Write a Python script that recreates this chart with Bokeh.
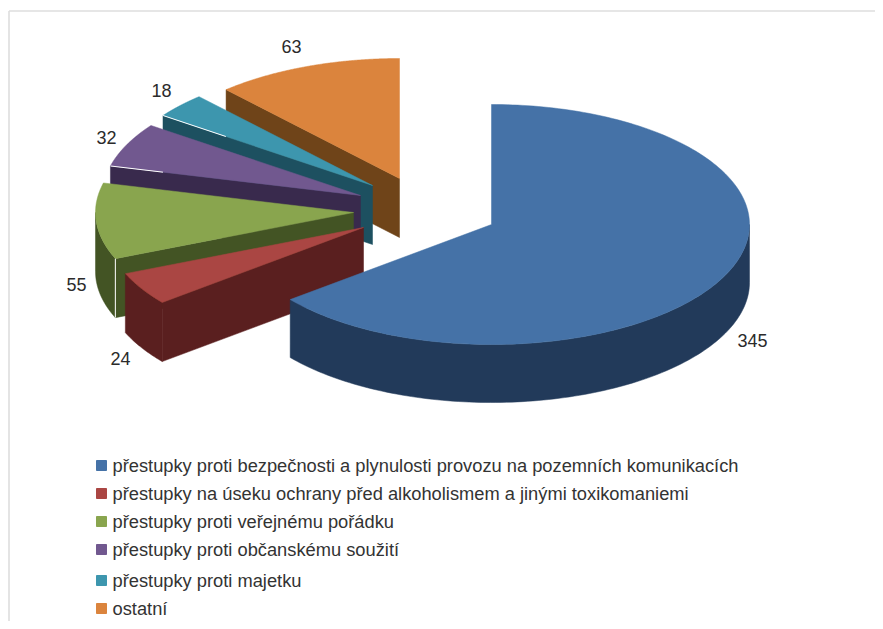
import numpy as np
from bokeh.core.properties import value
from bokeh.embed import file_html
from bokeh.models import Range1d
from bokeh.plotting import figure
from bokeh.resources import INLINE

# data
categories = [
    "přestupky proti bezpečnosti a plynulosti provozu na pozemních komunikacích",
    "přestupky na úseku ochrany před alkoholismem a jinými toxikomaniemi",
    "přestupky proti veřejnému pořádku",
    "přestupky proti občanskému soužití",
    "přestupky proti majetku",
    "ostatní",
]
values = [345, 24, 55, 32, 18, 63]

# styles
top_colors = ["#4572a7", "#aa4643", "#89a54e", "#71588f", "#3d96ae", "#db843d"]
wall_colors = ["#223a5a", "#5a1f1f", "#435424", "#392a4d", "#1d5060", "#6f4419"]

# layout (reference pixels)
apex_x = [491, 363, 353, 360, 372, 399]
apex_y = [224, 227, 212, 195, 185, 178]
depths = [58, 59, 59, 59, 59, 59]
RX, RY = 258, 120
label_x = [752, 120, 76, 106, 161, 291]
label_y = [340, 358, 284, 137, 90, 46]
legend_y = [465, 493, 521, 549, 580, 608]
LEGEND_SWATCH_X, LEGEND_TEXT_X = 101, 112
FONT = value("Liberation Sans")

W, H = 875, 621
p = figure(width=W, height=H, output_backend="svg", toolbar_location=None,
           x_range=Range1d(0, W), y_range=Range1d(H, 0),
           min_border=0, outline_line_color=None, background_fill_color="white")
p.axis.visible = False
p.grid.visible = False

# frame
p.line([8.5, 8.5], [H, 10.5], line_color="#dedede", line_width=1.6)
p.line([8.5, W], [10.5, 10.5], line_color="#dedede", line_width=1.6)


def pt(i, deg):
    a = np.radians(deg)
    return apex_x[i] + RX * np.sin(a), apex_y[i] - RY * np.cos(a)


edges = np.concatenate([[0], np.cumsum(values)]) / sum(values) * 360.0

# back to front: last slice first, blue last
for i in [5, 4, 3, 2, 1, 0]:
    start, end = edges[i], edges[i + 1]
    ax, ay = apex_x[i], apex_y[i]
    top, wall = top_colors[i], wall_colors[i]
    d = depths[i]
    sx, sy = pt(i, start)

    # radial wall at the start edge, seen from the front for all exploded slices
    if i > 0:
        p.patch([ax, sx, sx, ax], [ay, sy, sy + d, ay + d],
                fill_color=wall, line_color=wall, line_width=0.5)

    # curved outer wall for the part facing the viewer
    lo, hi = max(start, 90), min(end, 270)
    if hi > lo:
        t = np.linspace(lo, hi, 120)
        xs, ys = pt(i, t)
        p.patch(np.concatenate([xs, xs[::-1]]), np.concatenate([ys, ys[::-1] + d]),
                fill_color=wall, line_color=wall, line_width=0.5)

    # top face
    t = np.linspace(start, end, 200)
    xs, ys = pt(i, t)
    p.patch(np.concatenate([[ax], xs]), np.concatenate([[ay], ys]),
            fill_color=top, line_color=top, line_width=0.5)

    # thin highlights along some cut edges
    if i in (3, 4):
        f = 0.21 if i == 3 else 0.30
        p.line([sx, sx + f * (ax - sx)], [sy, sy + f * (ay - sy)], line_color="white", line_width=1)
    if i == 2:
        p.line([sx, sx], [sy, sy + d], line_color="white", line_width=1)

# data labels
p.text(label_x, label_y, text=[str(v) for v in values], text_font=FONT, text_font_size="18px",
       text_color="#2b2b2b", text_align="center", text_baseline="middle")

# legend
p.scatter([LEGEND_SWATCH_X] * 6, legend_y, marker="square", size=10, color=top_colors)
p.text([LEGEND_TEXT_X] * 6, legend_y, text=categories, text_font=FONT, text_font_size="18.3px",
       text_color="#333333", text_align="left", text_baseline="middle")

open("out.html", "w").write(file_html(p, INLINE))
